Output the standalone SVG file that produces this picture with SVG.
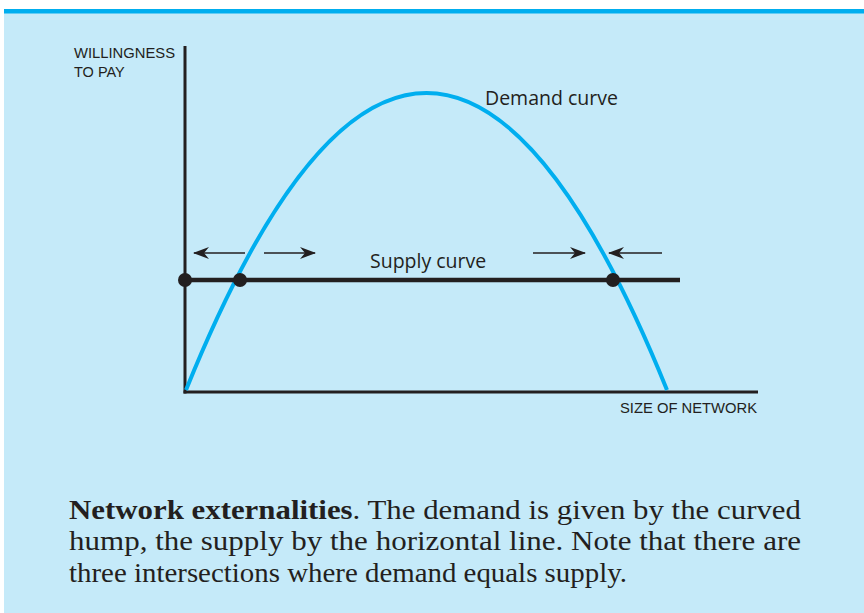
<svg xmlns="http://www.w3.org/2000/svg" width="864" height="613" viewBox="0 0 864 613">
<defs>
<style>
.ax{stroke:#231F20;stroke-width:3;fill:none}
.sup{stroke:#231F20;stroke-width:4.5;fill:none}
.dem{stroke:#00AEEF;stroke-width:4;fill:none}
.arr{stroke:#231F20;stroke-width:1.3;fill:none}
.lbl{font-family:"Open Sans","Liberation Sans",sans-serif;fill:#231F20}
.sm{font-family:"Liberation Sans","Open Sans",sans-serif;fill:#231F20;font-size:14.5px}
.cap{font-family:"Liberation Serif","DejaVu Serif",serif;font-size:26.5px;fill:#231F20}
.dot{fill:#231F20}
</style>
<marker id="ah" viewBox="0 0 16 12" refX="15" refY="6" markerWidth="16" markerHeight="12" markerUnits="userSpaceOnUse" orient="auto">
<path d="M0,0 L16,6 L0,12 L5,6 Z" fill="#231F20"/>
</marker>
</defs>
<rect x="4" y="13" width="860" height="600" fill="#C5EAF9"/>
<rect x="4" y="9" width="860" height="4.5" fill="#00AEEF"/>
<g id="axes">
<line class="ax" x1="185" y1="46" x2="185" y2="393.5"/>
<line class="ax" x1="183.5" y1="392" x2="758" y2="392"/>
</g>
<g id="demand">
<path class="dem" d="M186,390 Q426.5,-204 667,390"/>
<text class="lbl" x="485" y="105" font-size="19.5">Demand curve</text>
</g>
<g id="supply">
<line class="sup" x1="185" y1="280" x2="680" y2="280"/>
<text class="lbl" x="370" y="268" font-size="19.5">Supply curve</text>
</g>
<g id="connectors">
<line class="arr" x1="245" y1="253" x2="194" y2="253" marker-end="url(#ah)"/>
<line class="arr" x1="264" y1="253" x2="315" y2="253" marker-end="url(#ah)"/>
<line class="arr" x1="533" y1="253" x2="585" y2="253" marker-end="url(#ah)"/>
<line class="arr" x1="662" y1="253" x2="609" y2="253" marker-end="url(#ah)"/>
</g>
<g id="points">
<circle class="dot" cx="185" cy="280" r="7"/>
<circle class="dot" cx="240" cy="280" r="7"/>
<circle class="dot" cx="613" cy="280" r="7"/>
</g>
<g id="ylabel">
<text class="sm" x="74" y="58" textLength="101" lengthAdjust="spacingAndGlyphs">WILLINGNESS</text>
<text class="sm" x="74" y="77">TO PAY</text>
</g>
<g id="xlabel">
<text class="sm" x="620" y="413" textLength="137" lengthAdjust="spacingAndGlyphs">SIZE OF NETWORK</text>
</g>
<g id="caption">
<text class="cap" x="69" y="519" textLength="732" lengthAdjust="spacingAndGlyphs"><tspan font-weight="bold">Network externalities</tspan>.  The demand is given by the curved</text>
<text class="cap" x="69" y="550" textLength="732" lengthAdjust="spacingAndGlyphs">hump, the supply by the horizontal line.  Note that there are</text>
<text class="cap" x="69" y="582" textLength="558" lengthAdjust="spacingAndGlyphs">three intersections where demand equals supply.</text>
</g>
</svg>
